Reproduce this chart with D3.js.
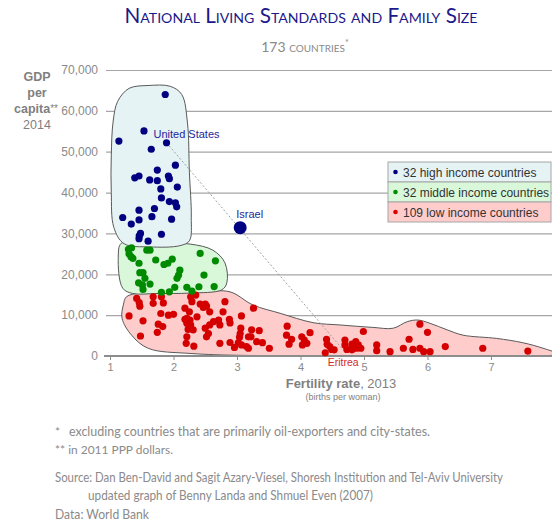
<!DOCTYPE html>
<html>
<head>
<meta charset="utf-8">
<script src="https://cdn.jsdelivr.net/npm/d3@7"></script>
<style>
  body { margin: 0; background: #fff; }
  .axis text { font-family: "Liberation Sans", Arial, sans-serif; font-size: 12px; fill: #8a8a8a; }
  .note { font-family: Lato, "Open Sans", sans-serif; fill: #8a8a8a; }
</style>
</head>
<body>
<div id="chart"></div>
<script>
// Data (fertility rate, GDP per capita)
var highIncome = [
  [1.87,64000],[1.535,55100],[1.14,52600],[1.89,52200],[1.65,50600],[2.03,46700],
  [1.745,45500],[1.457,44050],[1.39,43600],[1.92,44050],[1.935,43400],[1.625,43100],
  [1.745,42900],[1.80,40900],[2.06,41350],[1.81,38700],[1.935,37800],[2.03,37500],
  [2.05,36500],[1.70,36100],[1.457,35700],[1.20,33900],[1.66,34100],[1.97,33500],
  [1.457,33300],[1.335,32300],[1.48,30000],[1.81,29800],[1.46,29400],[1.457,28700],
  [1.60,28100]
];
var middleIncome = [
  [1.34,26500],[1.29,26100],[1.58,25900],[1.63,25900],[1.30,25000],[1.33,24300],
  [1.36,23900],[2.42,25100],[2.66,23300],[1.72,23500],[1.457,22700],[1.85,22400],
  [1.91,22700],[1.98,23700],[1.47,20400],[1.52,20400],[2.10,21000],[2.08,19800],
  [2.055,19000],[2.48,19800],[1.55,19000],[1.45,17900],[1.51,17400],[1.63,17600],
  [1.52,16300],[1.81,15600],[1.935,15700],[2.02,16800],[2.21,16800],[2.29,15900],
  [2.64,17000],[2.40,16950]
];
var lowIncome = [
  [1.42,14100],[1.46,13100],[1.47,12200],[1.68,14500],[1.68,12900],[1.81,14500],
  [1.84,13000],[1.30,9800],[1.52,8600],[1.48,4900],[1.80,10400],[1.92,10000],
  [2.00,10200],[1.76,7800],[1.83,7200],[1.745,5800],[2.27,14500],[2.35,14900],
  [2.29,13300],[2.42,12700],[2.50,12700],[2.47,11900],[2.52,12200],[2.81,13300],
  [2.57,10800],[2.78,10800],[2.18,11700],[2.25,10800],[2.21,9200],[2.26,8800],
  [2.37,9600],[2.21,8000],[2.27,7600],[2.23,6500],[2.31,6400],[2.21,4700],
  [2.50,6800],[2.57,7600],[2.63,8400],[2.71,8800],[2.55,5500],[2.73,7600],
  [2.32,2400],[2.20,3100],[2.73,3100],[2.88,9000],[3.07,9800],[2.96,2100],
  [3.07,2700],[3.06,6800],[3.05,5500],[3.04,4600],[3.18,4700],[3.15,2300],
  [3.26,11700],[2.89,8100],[3.18,1900],[3.23,6400],[3.35,6200],[3.22,4700],
  [3.31,3500],[3.40,3250],[3.51,1900],[3.79,7300],[3.78,5100],[3.86,4100],
  [3.82,2900],[4.02,4700],[4.06,3900],[4.10,3100],[4.15,5700],[4.03,2700],
  [4.41,4100],[4.42,2900],[4.39,800],[4.49,1600],[4.53,1500],[4.70,3900],
  [4.73,1600],[4.70,2700],[4.81,2900],[4.87,3500],[4.91,2700],[4.81,1500],
  [4.88,1900],[4.95,1900],[4.99,6000],[5.20,2700],[5.20,1300],[5.41,1050],
  [5.62,1900],[5.71,4100],[5.77,1600],[5.88,7800],[6.00,5800],[5.88,1900],
  [5.94,1050],[6.04,1050],[6.28,2300],[6.87,1900],[7.58,1200],[2.52,4700],
  [2.89,3300],[4.46,2300],[2.18,9000],[3.02,3200]
];
var israel = [3.05, 31400];
var unitedStates = [1.89, 52200];
var eritrea = [4.65, 1900];

// Group outlines
var highOutline = [
  [1.05,57500],[1.12,62300],[1.30,65500],[1.60,66200],[1.95,66000],[2.13,64000],
  [2.22,57000],[2.25,45000],[2.28,34000],[2.25,28200],[2.10,27000],[1.63,26700],
  [1.22,27500],[1.06,31500],[1.02,40000],[1.02,49000]
];
var middleOutline = [
  [1.18,27600],[1.63,27700],[2.26,27400],[2.62,25900],[2.81,22800],[2.84,17900],
  [2.76,16200],[2.26,15400],[1.74,15300],[1.36,15300],[1.20,16600],[1.13,24200]
];
var lowOutline = [
  [1.26,14500],[1.47,15400],[1.71,15400],[2.42,15700],[2.89,15700],[3.25,12500],
  [3.68,10450],[4.20,8150],[4.62,7600],[5.14,7000],[5.46,6800],[5.68,8400],
  [5.85,8800],[6.04,8000],[6.31,6400],[6.56,5100],[7.09,4300],[7.50,3250],
  [7.82,1900],[8.05,500],[7.09,0],[4.0,0],[2.29,600],[1.60,1900],[1.34,5100],
  [1.19,9200],[1.21,12500]
];

var yTicks = [0,10000,20000,30000,40000,50000,60000,70000];
var xTicks = [1,2,3,4,5,6,7];
var legendLabels = ["32 high income countries", "32 middle income countries", "109 low income countries"];

(function() {
  var width = 552, height = 524;

  var svg = d3.select("#chart")
    .append("svg")
    .attr("width", width)
    .attr("height", height)
    .style("font-family", "'Liberation Sans', Arial, sans-serif");

  var xPositionScale = d3.scaleLinear().domain([1, 7]).range([110, 491]);
  var yPositionScale = d3.scaleLinear().domain([0, 70000]).range([356, 70]);

  svg.append("defs").append("clipPath").attr("id", "plotclip")
    .append("rect").attr("x", 100).attr("y", 60).attr("width", 452).attr("height", 297);

  // gridlines + y axis
  var yAxis = d3.axisLeft(yPositionScale)
    .tickValues(yTicks)
    .tickSizeInner(-(552 - 106))
    .tickSizeOuter(0)
    .tickPadding(8)
    .tickFormat(d3.format(","));

  svg.append("g")
    .attr("class", "axis y-axis")
    .attr("transform", "translate(106,0)")
    .call(yAxis)
    .call(function(g) {
      g.select(".domain").remove();
      g.selectAll("line").attr("stroke", "#a6a6a6").attr("stroke-width", 1.2);
    });

  // blobs
  var line = d3.line()
    .x(function(d) { return xPositionScale(d[0]); })
    .y(function(d) { return yPositionScale(d[1]); })
    .curve(d3.curveCatmullRomClosed.alpha(0.5));

  var blobs = svg.append("g").attr("clip-path", "url(#plotclip)");
  blobs.append("path").datum(lowOutline).attr("d", line)
    .attr("fill", "#ffcccc").attr("stroke", "#595959").attr("stroke-width", 1);
  blobs.append("path").datum(middleOutline).attr("d", line)
    .attr("fill", "#d9f8d9").attr("stroke", "#595959").attr("stroke-width", 1);
  blobs.append("path").datum(highOutline).attr("d", line)
    .attr("fill", "#e5f3f5").attr("stroke", "#595959").attr("stroke-width", 1);

  // x axis
  var xAxis = d3.axisBottom(xPositionScale)
    .tickValues(xTicks)
    .tickSizeInner(4)
    .tickSizeOuter(0)
    .tickPadding(3)
    .tickFormat(d3.format("d"));

  svg.append("g")
    .attr("class", "axis x-axis")
    .attr("transform", "translate(0,356)")
    .call(xAxis)
    .call(function(g) {
      g.select(".domain").attr("d", "M104,0H552").attr("stroke", "#8c8c8c").attr("stroke-width", 2);
      g.selectAll("line").attr("stroke", "#8c8c8c");
      g.selectAll("text").style("font-size", "11px");
    });

  // dotted line US -> Eritrea
  svg.append("line")
    .attr("x1", xPositionScale(unitedStates[0]))
    .attr("y1", yPositionScale(unitedStates[1]))
    .attr("x2", xPositionScale(eritrea[0]))
    .attr("y2", yPositionScale(eritrea[1]))
    .attr("stroke", "#a0a0a0")
    .attr("stroke-width", 1)
    .attr("stroke-dasharray", "2,2");

  // dots
  function drawDots(data, color) {
    svg.append("g").selectAll("circle")
      .data(data)
      .enter().append("circle")
      .attr("cx", function(d) { return xPositionScale(d[0]); })
      .attr("cy", function(d) { return yPositionScale(d[1]); })
      .attr("r", 3.6)
      .attr("fill", color);
  }
  drawDots(lowIncome, "#d40000");
  drawDots(middleIncome, "#008a00");
  drawDots(highIncome, "#000080");

  svg.append("circle")
    .attr("cx", xPositionScale(israel[0]))
    .attr("cy", yPositionScale(israel[1]))
    .attr("r", 6.5)
    .attr("fill", "#000080");

  // point labels
  svg.append("text")
    .attr("x", xPositionScale(unitedStates[0]) - 13)
    .attr("y", yPositionScale(unitedStates[1]) - 5)
    .attr("fill", "#1f1f99").style("font-size", "11px")
    .text("United States");
  svg.append("text")
    .attr("x", xPositionScale(israel[0]) - 4)
    .attr("y", yPositionScale(israel[1]) - 10)
    .attr("fill", "#1f1f99").style("font-size", "11px")
    .text("Israel");
  svg.append("text")
    .attr("x", xPositionScale(eritrea[0]) - 14)
    .attr("y", 366)
    .attr("fill", "#d42a2a").style("font-size", "10.5px")
    .text("Eritrea");

  // legend
  var legendColors = ["#e5f3f5", "#d9f8d9", "#ffcccc"];
  var dotColors = ["#000080", "#008a00", "#e00000"];
  var legend = svg.append("g").attr("transform", "translate(388,162)");
  legend.selectAll("rect")
    .data(legendLabels)
    .enter().append("rect")
    .attr("x", 0)
    .attr("y", function(d, i) { return i * 20; })
    .attr("width", 163)
    .attr("height", 20)
    .attr("fill", function(d, i) { return legendColors[i]; })
    .attr("stroke", "#a6a6a6");
  legend.selectAll("circle")
    .data(legendLabels)
    .enter().append("circle")
    .attr("cx", 7.5)
    .attr("cy", function(d, i) { return i * 20 + 10; })
    .attr("r", 2.3)
    .attr("fill", function(d, i) { return dotColors[i]; });
  legend.selectAll("text")
    .data(legendLabels)
    .enter().append("text")
    .attr("x", 15)
    .attr("y", function(d, i) { return i * 20 + 14.5; })
    .attr("fill", "#333")
    .style("font-size", "12px")
    .text(function(d) { return d; });

  // title
  svg.append("text")
    .attr("x", 301).attr("y", 23)
    .attr("text-anchor", "middle")
    .attr("fill", "#1a1a8a")
    .attr("textLength", 353).attr("lengthAdjust", "spacingAndGlyphs")
    .style("font-family", "Lato, 'Open Sans', sans-serif")
    .style("font-size", "20.5px")
    .style("font-variant", "small-caps")
    .text("National Living Standards and Family Size");

  var sub = svg.append("text")
    .attr("x", 305).attr("y", 52)
    .attr("text-anchor", "middle")
    .attr("fill", "#8a8a8a")
    .style("font-family", "Lato, 'Open Sans', sans-serif")
    .style("font-size", "14px")
    .style("font-variant", "small-caps");
  sub.append("tspan").text("173 countries");
  sub.append("tspan").attr("dy", -6).style("font-size", "9px").text("*");

  // y axis title
  var yTitle = svg.append("text")
    .attr("fill", "#7f7f7f")
    .attr("text-anchor", "middle")
    .style("font-size", "12.5px");
  yTitle.append("tspan").attr("x", 37).attr("y", 81).style("font-weight", "bold").text("GDP");
  yTitle.append("tspan").attr("x", 37).attr("y", 97).style("font-weight", "bold").text("per");
  var cap = yTitle.append("tspan").attr("x", 36).attr("y", 113);
  cap.append("tspan").style("font-weight", "bold").text("capita");
  cap.append("tspan").style("font-size", "10px").attr("dy", -1).text("**");
  yTitle.append("tspan").attr("x", 37).attr("y", 129).text("2014");

  // x axis title
  var xTitle = svg.append("text")
    .attr("x", 341).attr("y", 388)
    .attr("text-anchor", "middle")
    .attr("fill", "#7f7f7f")
    .style("font-size", "13px");
  xTitle.append("tspan").style("font-weight", "bold").text("Fertility rate");
  xTitle.append("tspan").text(", 2013");
  svg.append("text")
    .attr("x", 343).attr("y", 400)
    .attr("text-anchor", "middle")
    .attr("fill", "#7f7f7f")
    .style("font-size", "9px")
    .text("(births per woman)");

  // notes
  svg.append("text").attr("class", "note").attr("x", 55).attr("y", 436)
    .style("font-size", "12px").text("*");
  svg.append("text").attr("class", "note").attr("x", 69).attr("y", 436)
    .attr("textLength", 361).attr("lengthAdjust", "spacingAndGlyphs")
    .style("font-size", "12.5px")
    .text("excluding countries that are primarily oil-exporters and city-states.");
  svg.append("text").attr("class", "note").attr("x", 55).attr("y", 454)
    .attr("textLength", 118).attr("lengthAdjust", "spacingAndGlyphs")
    .style("font-size", "12px")
    .text("** in 2011 PPP dollars.");
  svg.append("text").attr("class", "note").attr("x", 55).attr("y", 482)
    .attr("textLength", 448).attr("lengthAdjust", "spacingAndGlyphs")
    .style("font-size", "12.5px")
    .text("Source: Dan Ben-David and Sagit Azary-Viesel, Shoresh Institution and Tel-Aviv University");
  svg.append("text").attr("class", "note").attr("x", 88).attr("y", 500)
    .attr("textLength", 285).attr("lengthAdjust", "spacingAndGlyphs")
    .style("font-size", "12.5px")
    .text("updated graph of Benny Landa and Shmuel Even (2007)");
  svg.append("text").attr("class", "note").attr("x", 55).attr("y", 519)
    .attr("textLength", 94).attr("lengthAdjust", "spacingAndGlyphs")
    .style("font-size", "12.5px")
    .text("Data: World Bank");
})();
</script>
</body>
</html>
